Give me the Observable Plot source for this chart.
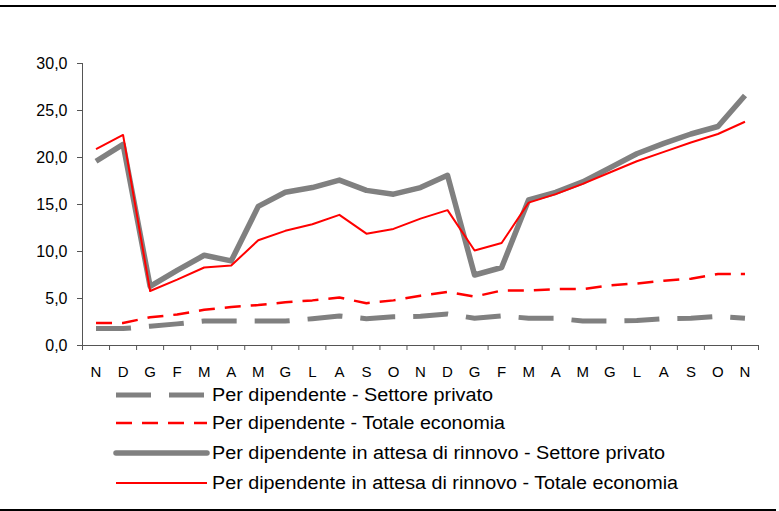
<!DOCTYPE html>
<html>
<head>
<meta charset="utf-8">
<script src="https://cdn.jsdelivr.net/npm/d3@7"></script>
<script src="https://cdn.jsdelivr.net/npm/@observablehq/plot@0.6"></script>
<style>
  body { margin: 0; background: #fff; }
  #frame { position: relative; width: 779px; height: 511px; overflow: hidden; font-family: "Liberation Sans", Arial, sans-serif; }
  .hline { position: absolute; left: 0; width: 776px; background: #000; }
  #chart { position: absolute; left: 0; top: 0; }
  #legend { position: absolute; left: 0; top: 385px; }
</style>
</head>
<body>
<div id="frame">
  <div class="hline" style="top:5px;height:2px"></div>
  <div id="chart"></div>
  <div id="legend"></div>
  <div class="hline" style="top:509px;height:2px"></div>
</div>
<script>
const months = ["N","D","G","F","M","A","M","G","L","A","S","O","N","D","G","F","M","A","M","G","L","A","S","O","N"];
const perDipPrivato = [1.8,1.8,2.05,2.3,2.6,2.6,2.6,2.6,2.85,3.15,2.85,3.05,3.1,3.35,2.9,3.15,2.9,2.9,2.6,2.6,2.65,2.85,2.9,3.1,2.9];
const perDipTotale = [2.4,2.4,3.0,3.3,3.8,4.1,4.3,4.6,4.8,5.1,4.5,4.8,5.3,5.7,5.2,5.85,5.85,6.0,6.0,6.4,6.6,6.9,7.1,7.6,7.6];
const attesaPrivato = [19.6,21.4,6.3,8.0,9.6,9.0,14.8,16.3,16.8,17.6,16.5,16.1,16.8,18.1,7.5,8.3,15.5,16.3,17.4,18.9,20.4,21.5,22.5,23.3,26.6];
const attesaTotale = [20.9,22.4,5.8,7.0,8.3,8.5,11.2,12.2,12.9,13.9,11.9,12.4,13.5,14.4,10.1,10.9,15.2,16.1,17.2,18.4,19.6,20.6,21.6,22.5,23.8];
const yTicks = [0,5,10,15,20,25,30];
const seriesNames = [
  "Per dipendente - Settore privato",
  "Per dipendente - Totale economia",
  "Per dipendente in attesa di rinnovo - Settore privato",
  "Per dipendente in attesa di rinnovo - Totale economia"
];

const styles = [
  {stroke: "#808080", strokeWidth: 5, dash: "35,18"},
  {stroke: "#ff0000", strokeWidth: 2.5, dash: "16,10"},
  {stroke: "#808080", strokeWidth: 5.5, dash: null},
  {stroke: "#ff0000", strokeWidth: 2, dash: null}
];
const allSeries = [perDipPrivato, perDipTotale, attesaPrivato, attesaTotale];
const idx = months.map((m, i) => i);
const fmt = d => d.toFixed(1).replace(".", ",");

const lineMarks = allSeries.map((s, k) => Plot.line(idx, {
  x: i => i, y: i => s[i],
  stroke: styles[k].stroke, strokeWidth: styles[k].strokeWidth,
  strokeDasharray: styles[k].dash, strokeLinecap: "butt", strokeLinejoin: "round"
}));

const chart = Plot.plot({
  width: 779, height: 385,
  marginLeft: 82, marginRight: 21, marginTop: 63, marginBottom: 40,
  style: {fontFamily: "'Liberation Sans', Arial, sans-serif", fontSize: "15px", color: "#000", background: "transparent"},
  x: {type: "linear", domain: [-0.5, months.length - 0.5], axis: null},
  y: {domain: [0, 30], axis: null},
  marks: [
    Plot.axisX(idx, {tickSize: 0, tickPadding: 21, tickFormat: i => months[i], fontSize: 15, fill: "#000"}),
    Plot.axisX(d3.range(-0.5, months.length, 1), {tickSize: 5, tickFormat: () => "", stroke: "#555"}),
    Plot.axisY(yTicks, {tickSize: 5, tickPadding: 10, tickFormat: fmt, fontSize: 16, fill: "#000", stroke: "#555"}),
    Plot.ruleX([-0.5], {y1: 0, y2: 30, stroke: "#555"}),
    Plot.ruleY([0], {x1: -0.5, x2: months.length - 0.5, stroke: "#555"}),
    ...lineMarks
  ]
});
document.getElementById("chart").appendChild(chart);

// Legend
const textWidths = [281, 293, 453, 466];
const rowY = [10, 38, 68, 98];
const lg = d3.select("#legend").append("svg").attr("width", 779).attr("height", 124);
seriesNames.forEach((name, k) => {
  lg.append("line")
    .attr("x1", 116).attr("x2", 207).attr("y1", rowY[k]).attr("y2", rowY[k])
    .attr("stroke", styles[k].stroke).attr("stroke-width", styles[k].strokeWidth)
    .attr("stroke-dasharray", styles[k].dash || null)
    .attr("stroke-linecap", k === 2 ? "round" : "butt");
  lg.append("text")
    .attr("x", 212).attr("y", rowY[k]).attr("dy", "0.36em")
    .attr("font-family", "'Liberation Sans Narrow', 'Liberation Sans', Arial, sans-serif")
    .attr("font-size", 18)
    .attr("textLength", textWidths[k]).attr("lengthAdjust", "spacingAndGlyphs")
    .attr("fill", "#000")
    .text(name);
});
</script>
</body>
</html>
